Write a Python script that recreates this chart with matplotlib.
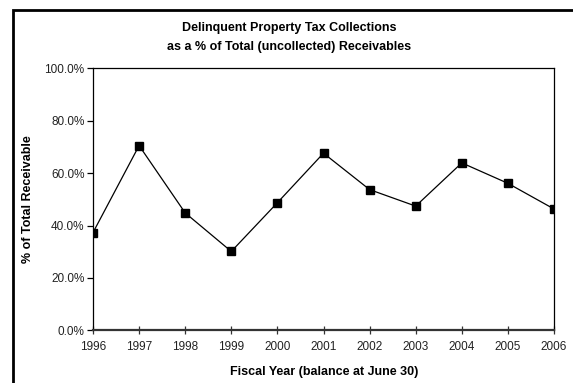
import matplotlib
matplotlib.use("Agg")
import matplotlib.pyplot as plt
from matplotlib.patches import Rectangle
from matplotlib.ticker import FuncFormatter

years = [1996, 1997, 1998, 1999, 2000, 2001, 2002, 2003, 2004, 2005, 2006]
pct_collected = [37.3, 70.5, 44.8, 30.1, 48.7, 67.6, 53.7, 47.4, 63.9, 56.1, 46.3]
y_ticks = [0, 20, 40, 60, 80, 100]

plt.rcParams['font.family'] = ['Liberation Sans', 'DejaVu Sans']

W, H = 573, 383
fig = plt.figure(figsize=(W / 100, H / 100), dpi=100)

# chart border (open on the right and bottom edges)
fig.patches.append(Rectangle((12.5 / W, -0.1), 1.2, 1 - 9.5 / H + 0.1,
                             transform=fig.transFigure, fill=False,
                             edgecolor='black', linewidth=2.0))

left, right, top, bottom = 93, 554, 68.3, 330.3
ax = fig.add_axes([left / W, 1 - bottom / H, (right - left) / W, (bottom - top) / H])

ax.plot(years, pct_collected, color='black', linewidth=0.9,
        marker='s', markersize=5.2, markerfacecolor='black', markeredgecolor='black')

ax.set_xlim(years[0], years[-1])
ax.set_ylim(0, 100)
ax.set_xticks(years)
ax.set_yticks(y_ticks)
ax.yaxis.set_major_formatter(FuncFormatter(lambda v, p: f"{v:.1f}%"))

for s in ('left', 'right', 'top'):
    ax.spines[s].set_linewidth(0.9)
    ax.spines[s].set_color('black')
ax.spines['bottom'].set_linewidth(1.6)
ax.spines['bottom'].set_color('#333333')

ax.tick_params(axis='x', direction='inout', length=6, width=0.9, color='#333333',
               labelsize=8.5, pad=5, labelcolor='#222222')
ax.tick_params(axis='y', direction='out', length=4.2, width=0.9, color='black',
               labelsize=8.5, pad=2, labelcolor='#222222')

fig.text(289 / W, 1 - 28 / H, "Delinquent Property Tax Collections",
         ha='center', va='center', fontsize=9, fontweight='bold')
fig.text(289 / W, 1 - 47 / H, "as a % of Total (uncollected) Receivables",
         ha='center', va='center', fontsize=9, fontweight='bold')

fig.text(324 / W, 1 - 371.5 / H, "Fiscal Year (balance at June 30)",
         ha='center', va='center', fontsize=9, fontweight='bold')
fig.text(28 / W, 1 - 199 / H, "% of Total Receivable", rotation=90,
         ha='center', va='center', fontsize=9, fontweight='bold')

fig.savefig("out.png", dpi=100)
